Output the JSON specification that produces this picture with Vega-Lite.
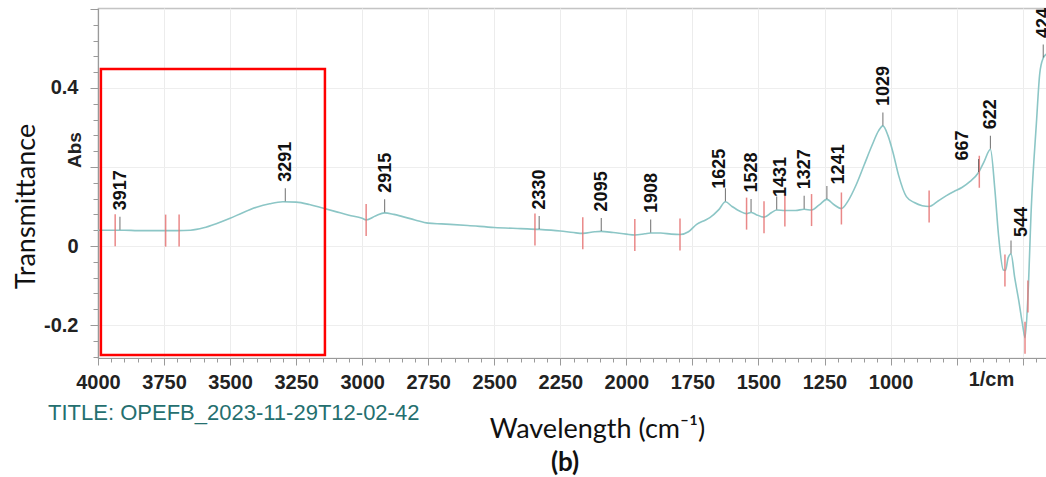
{
  "$schema": "https://vega.github.io/schema/vega-lite/v6.json",
  "autosize": "none",
  "padding": {"left": 98, "top": 8, "right": 0, "bottom": 119},
  "width": 950,
  "height": 350,
  "background": "white",
  "config": {"view": {"stroke": "#c4c4c4", "strokeWidth": 1.2}},
  "resolve": {"axis": {"x": "independent", "y": "independent"}},
  "datasets": {
    "spectrum": [
      {"wn": 4000, "abs": 0.040}, {"wn": 3950, "abs": 0.040}, {"wn": 3900, "abs": 0.040}, {"wn": 3850, "abs": 0.039},
      {"wn": 3800, "abs": 0.039}, {"wn": 3750, "abs": 0.039}, {"wn": 3700, "abs": 0.039}, {"wn": 3650, "abs": 0.040},
      {"wn": 3600, "abs": 0.046}, {"wn": 3550, "abs": 0.057}, {"wn": 3500, "abs": 0.070}, {"wn": 3450, "abs": 0.085},
      {"wn": 3400, "abs": 0.098}, {"wn": 3350, "abs": 0.107}, {"wn": 3300, "abs": 0.112}, {"wn": 3250, "abs": 0.111},
      {"wn": 3200, "abs": 0.105}, {"wn": 3150, "abs": 0.096}, {"wn": 3100, "abs": 0.087}, {"wn": 3050, "abs": 0.078},
      {"wn": 3000, "abs": 0.070}, {"wn": 2985, "abs": 0.066}, {"wn": 2950, "abs": 0.076}, {"wn": 2915, "abs": 0.084},
      {"wn": 2880, "abs": 0.080}, {"wn": 2850, "abs": 0.075}, {"wn": 2800, "abs": 0.066}, {"wn": 2750, "abs": 0.058},
      {"wn": 2700, "abs": 0.056}, {"wn": 2600, "abs": 0.052}, {"wn": 2500, "abs": 0.047}, {"wn": 2400, "abs": 0.044},
      {"wn": 2330, "abs": 0.042}, {"wn": 2250, "abs": 0.038}, {"wn": 2200, "abs": 0.034}, {"wn": 2165, "abs": 0.032},
      {"wn": 2120, "abs": 0.036}, {"wn": 2095, "abs": 0.037}, {"wn": 2050, "abs": 0.034}, {"wn": 2000, "abs": 0.030},
      {"wn": 1968, "abs": 0.028}, {"wn": 1930, "abs": 0.031}, {"wn": 1908, "abs": 0.033}, {"wn": 1870, "abs": 0.033},
      {"wn": 1830, "abs": 0.030}, {"wn": 1797, "abs": 0.029}, {"wn": 1765, "abs": 0.036}, {"wn": 1734, "abs": 0.055},
      {"wn": 1700, "abs": 0.066}, {"wn": 1684, "abs": 0.072}, {"wn": 1650, "abs": 0.092}, {"wn": 1625, "abs": 0.112},
      {"wn": 1600, "abs": 0.100}, {"wn": 1570, "abs": 0.088}, {"wn": 1545, "abs": 0.082}, {"wn": 1528, "abs": 0.085},
      {"wn": 1510, "abs": 0.080}, {"wn": 1479, "abs": 0.073}, {"wn": 1450, "abs": 0.085}, {"wn": 1431, "abs": 0.091},
      {"wn": 1400, "abs": 0.090}, {"wn": 1360, "abs": 0.090}, {"wn": 1327, "abs": 0.093}, {"wn": 1299, "abs": 0.091},
      {"wn": 1270, "abs": 0.104}, {"wn": 1241, "abs": 0.118}, {"wn": 1215, "abs": 0.105}, {"wn": 1186, "abs": 0.095},
      {"wn": 1160, "abs": 0.115}, {"wn": 1130, "abs": 0.155}, {"wn": 1100, "abs": 0.205}, {"wn": 1070, "abs": 0.255},
      {"wn": 1045, "abs": 0.292}, {"wn": 1029, "abs": 0.304}, {"wn": 1010, "abs": 0.280}, {"wn": 990, "abs": 0.235},
      {"wn": 970, "abs": 0.180}, {"wn": 940, "abs": 0.125}, {"wn": 910, "abs": 0.110}, {"wn": 880, "abs": 0.102},
      {"wn": 854, "abs": 0.100}, {"wn": 820, "abs": 0.114}, {"wn": 790, "abs": 0.127}, {"wn": 760, "abs": 0.138},
      {"wn": 730, "abs": 0.148}, {"wn": 700, "abs": 0.163}, {"wn": 667, "abs": 0.186}, {"wn": 645, "abs": 0.215},
      {"wn": 622, "abs": 0.245}, {"wn": 605, "abs": 0.142}, {"wn": 592, "abs": 0.033}, {"wn": 573, "abs": -0.061},
      {"wn": 565, "abs": -0.062}, {"wn": 555, "abs": -0.030}, {"wn": 544, "abs": -0.020}, {"wn": 530, "abs": -0.080},
      {"wn": 515, "abs": -0.137}, {"wn": 500, "abs": -0.200}, {"wn": 491, "abs": -0.232}, {"wn": 480, "abs": -0.128},
      {"wn": 467, "abs": 0.100}, {"wn": 448, "abs": 0.310}, {"wn": 435, "abs": 0.438}, {"wn": 422, "abs": 0.476},
      {"wn": 412, "abs": 0.485}, {"wn": 404, "abs": 0.490}
    ],
    "peaks": [
      {"wn": 3917, "abs": 0.040, "label": "3917"}, {"wn": 3291, "abs": 0.112, "label": "3291"},
      {"wn": 2915, "abs": 0.084, "label": "2915"}, {"wn": 2330, "abs": 0.042, "label": "2330"},
      {"wn": 2095, "abs": 0.037, "label": "2095"}, {"wn": 1908, "abs": 0.033, "label": "1908"},
      {"wn": 1625, "abs": 0.112, "label": "1625"}, {"wn": 1528, "abs": 0.085, "label": "1528"},
      {"wn": 1431, "abs": 0.091, "label": "1431"}, {"wn": 1327, "abs": 0.093, "label": "1327"},
      {"wn": 1241, "abs": 0.118, "label": "1241"}, {"wn": 1029, "abs": 0.304, "label": "1029"},
      {"wn": 667, "abs": 0.186, "label": "667"}, {"wn": 622, "abs": 0.245, "label": "622"},
      {"wn": 544, "abs": -0.020, "label": "544"}, {"wn": 422, "abs": 0.476, "label": "424"}
    ],
    "baselines": [
      {"wn": 3935, "abs": 0.040}, {"wn": 3744, "abs": 0.039}, {"wn": 3693, "abs": 0.039}, {"wn": 2985, "abs": 0.066},
      {"wn": 2346, "abs": 0.042}, {"wn": 2165, "abs": 0.032}, {"wn": 1968, "abs": 0.028}, {"wn": 1797, "abs": 0.029},
      {"wn": 1545, "abs": 0.082}, {"wn": 1479, "abs": 0.073}, {"wn": 1400, "abs": 0.090}, {"wn": 1299, "abs": 0.091},
      {"wn": 1186, "abs": 0.095}, {"wn": 854, "abs": 0.100}, {"wn": 664, "abs": 0.188}, {"wn": 567, "abs": -0.062},
      {"wn": 491, "abs": -0.232}, {"wn": 480, "abs": -0.128}
    ],
    "one": [{"n": 1}]
  },
  "layer": [
    {
      "data": {"name": "spectrum"},
      "mark": {"type": "line", "color": "#8cc6c6", "strokeWidth": 1.6, "interpolate": "monotone"},
      "encoding": {
        "x": {
          "field": "wn", "type": "quantitative",
          "scale": {"domain": [4000, 404], "nice": false, "zero": false},
          "axis": {
            "title": "Wavelength (cm⁻¹)",
            "titleFont": "Lato", "titleFontSize": 27, "titleFontWeight": "normal", "titleColor": "#111",
            "titleX": 499, "titleY": 71, "titleAlign": "center", "titleBaseline": "middle",
            "values": [4000,3950,3900,3850,3800,3750,3700,3650,3600,3550,3500,3450,3400,3350,3300,3250,3200,3150,3100,3050,3000,2950,2900,2850,2800,2750,2700,2650,2600,2550,2500,2450,2400,2350,2300,2250,2200,2150,2100,2050,2000,1950,1900,1850,1800,1750,1700,1650,1600,1550,1500,1450,1400,1350,1300,1250,1200,1150,1100,1050,1000,950,900,850,800,750,700,650,600,550,500,450,620],
            "format": "d",
            "labelExpr": "datum.value == 620 ? '1/cm' : ((datum.value % 250 == 0 && datum.value >= 1000) ? datum.label : '')",
            "labelFont": "Liberation Sans", "labelFontSize": 20, "labelFontWeight": "bold", "labelColor": "#222",
            "labelOverlap": false, "labelFlush": false, "labelPadding": 7, "labelBaseline": "top",
            "domainColor": "#9a9a9a", "domainWidth": 1.2,
            "tickColor": "#9a9a9a",
            "tickSize": {"condition": {"test": "datum.value % 250 === 0", "value": 7}, "value": 4},
            "tickOpacity": {"condition": {"test": "datum.value === 620", "value": 0}, "value": 1},
            "grid": true, "gridColor": "#ececec",
            "gridOpacity": {"condition": {"test": "datum.value % 250 === 0", "value": 1}, "value": 0}
          }
        },
        "y": {
          "field": "abs", "type": "quantitative",
          "scale": {"domain": [-0.2835, 0.6025], "nice": false, "zero": false},
          "axis": {
            "title": "Transmittance",
            "titleFont": "Lato", "titleFontSize": 27, "titleFontWeight": "normal", "titleColor": "#111",
            "titleAngle": 270, "titleX": -72, "titleY": 198, "titleAlign": "center", "titleBaseline": "middle",
            "values": [-0.28,-0.24,-0.2,-0.16,-0.12,-0.08,-0.04,0,0.04,0.08,0.12,0.16,0.2,0.24,0.28,0.32,0.36,0.4,0.44,0.48,0.52,0.56,0.6],
            "labelExpr": "datum.value == 0.4 ? '0.4' : (datum.value == 0 ? '0' : (datum.value == -0.2 ? '-0.2' : ''))",
            "labelFont": "Liberation Sans", "labelFontSize": 20, "labelFontWeight": "bold", "labelColor": "#222", "labelPadding": 12,
            "labelOverlap": false, "labelFlush": false,
            "domainColor": "#9a9a9a", "domainWidth": 1.2,
            "tickColor": "#9a9a9a",
            "tickSize": {"condition": {"test": "abs(datum.value*5 - round(datum.value*5)) < 0.001", "value": 8}, "value": 5},
            "grid": true, "gridColor": "#eeeeee",
            "gridOpacity": {"condition": {"test": "abs(datum.value*5 - round(datum.value*5)) < 0.001", "value": 1}, "value": 0}
          }
        }
      }
    },
    {
      "data": {"name": "baselines"},
      "mark": {"type": "tick", "orient": "vertical", "size": 32, "thickness": 1.5, "color": "#e57373", "opacity": 0.85},
      "encoding": {"x": {"field": "wn", "type": "quantitative", "axis": null}, "y": {"field": "abs", "type": "quantitative", "axis": null}}
    },
    {
      "data": {"name": "peaks"},
      "mark": {"type": "tick", "orient": "vertical", "size": 13, "thickness": 1.1, "color": "#444", "yOffset": -7},
      "encoding": {"x": {"field": "wn", "type": "quantitative", "axis": null}, "y": {"field": "abs", "type": "quantitative", "axis": null}}
    },
    {
      "data": {"name": "peaks"},
      "transform": [{"filter": "indexof([667, 1241, 544, 1625, 1431], datum.wn) < 0"}],
      "mark": {"type": "text", "angle": 270, "align": "left", "baseline": "middle", "dx": 20, "dy": 1, "font": "Liberation Sans", "fontSize": 18, "fontWeight": "bold", "color": "#111"},
      "encoding": {"x": {"field": "wn", "type": "quantitative", "axis": null}, "y": {"field": "abs", "type": "quantitative", "axis": null}, "text": {"field": "label"}}
    },
    {
      "data": {"name": "peaks"},
      "transform": [{"filter": "datum.wn == 667"}],
      "mark": {"type": "text", "angle": 270, "align": "left", "baseline": "middle", "dx": 12, "dy": -16, "font": "Liberation Sans", "fontSize": 18, "fontWeight": "bold", "color": "#111"},
      "encoding": {"x": {"field": "wn", "type": "quantitative", "axis": null}, "y": {"field": "abs", "type": "quantitative", "axis": null}, "text": {"field": "label"}}
    },
    {
      "data": {"name": "peaks"},
      "transform": [{"filter": "datum.wn == 1241"}],
      "mark": {"type": "text", "angle": 270, "align": "left", "baseline": "middle", "dx": 15, "dy": 12, "font": "Liberation Sans", "fontSize": 18, "fontWeight": "bold", "color": "#111"},
      "encoding": {"x": {"field": "wn", "type": "quantitative", "axis": null}, "y": {"field": "abs", "type": "quantitative", "axis": null}, "text": {"field": "label"}}
    },
    {
      "data": {"name": "peaks"},
      "transform": [{"filter": "datum.wn == 544"}],
      "mark": {"type": "text", "angle": 270, "align": "left", "baseline": "middle", "dx": 17, "dy": 11, "font": "Liberation Sans", "fontSize": 18, "fontWeight": "bold", "color": "#111"},
      "encoding": {"x": {"field": "wn", "type": "quantitative", "axis": null}, "y": {"field": "abs", "type": "quantitative", "axis": null}, "text": {"field": "label"}}
    },
    {
      "data": {"name": "peaks"},
      "transform": [{"filter": "datum.wn == 1625"}],
      "mark": {"type": "text", "angle": 270, "align": "left", "baseline": "middle", "dx": 13, "dy": -5, "font": "Liberation Sans", "fontSize": 18, "fontWeight": "bold", "color": "#111"},
      "encoding": {"x": {"field": "wn", "type": "quantitative", "axis": null}, "y": {"field": "abs", "type": "quantitative", "axis": null}, "text": {"field": "label"}}
    },
    {
      "data": {"name": "peaks"},
      "transform": [{"filter": "datum.wn == 1431"}],
      "mark": {"type": "text", "angle": 270, "align": "left", "baseline": "middle", "dx": 13, "dy": 4, "font": "Liberation Sans", "fontSize": 18, "fontWeight": "bold", "color": "#111"},
      "encoding": {"x": {"field": "wn", "type": "quantitative", "axis": null}, "y": {"field": "abs", "type": "quantitative", "axis": null}, "text": {"field": "label"}}
    },
    {
      "data": {"name": "one"},
      "mark": {"type": "rect", "filled": false, "color": "#ff0000", "strokeWidth": 2.5},
      "encoding": {
        "x": {"datum": 3989, "type": "quantitative", "axis": null}, "x2": {"datum": 3141},
        "y": {"datum": 0.448, "type": "quantitative", "axis": null}, "y2": {"datum": -0.276}
      }
    },
    {
      "data": {"name": "one"},
      "mark": {"type": "text", "angle": 270, "align": "center", "baseline": "middle", "font": "Liberation Sans", "fontSize": 19, "fontWeight": "bold", "color": "#222", "text": "Abs"},
      "encoding": {
        "x": {"datum": 4087, "type": "quantitative", "axis": null},
        "y": {"datum": 0.243, "type": "quantitative", "axis": null}
      }
    },
    {
      "data": {"name": "one"},
      "mark": {"type": "text", "align": "left", "baseline": "middle", "font": "Liberation Sans Narrow, Liberation Sans", "fontSize": 22, "color": "#256f6f", "text": "TITLE: OPEFB_2023-11-29T12-02-42"},
      "encoding": {
        "x": {"datum": 4189, "type": "quantitative", "axis": null},
        "y": {"datum": -0.423, "type": "quantitative", "axis": null}
      }
    },
    {
      "data": {"name": "one"},
      "mark": {"type": "text", "align": "center", "baseline": "middle", "font": "Lato", "fontSize": 26, "fontWeight": "bold", "color": "#111", "text": "(b)"},
      "encoding": {
        "x": {"datum": 2232, "type": "quantitative", "axis": null},
        "y": {"datum": -0.549, "type": "quantitative", "axis": null}
      }
    }
  ]
}
